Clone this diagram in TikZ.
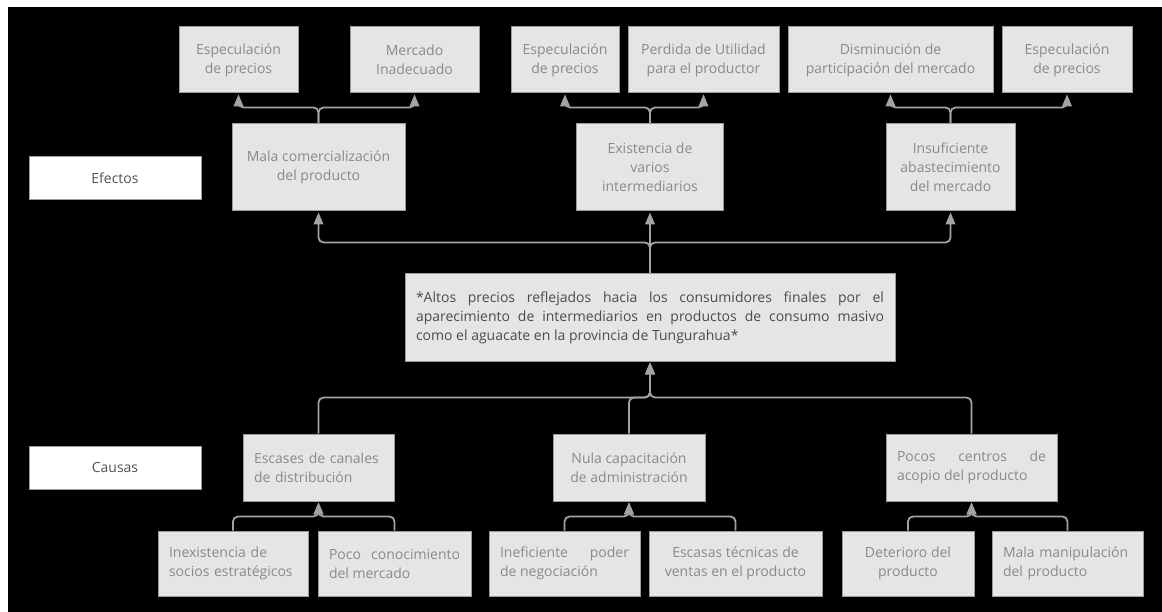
\documentclass[tikz,border=0pt]{standalone}
\usepackage{fontspec}
\setmainfont{Open Sans}
\usetikzlibrary{arrows}

\definecolor{boxfill}{HTML}{E6E4E7}
\definecolor{boxline}{HTML}{9C9A9C}
\definecolor{boxtext}{HTML}{8A8A8A}
\definecolor{linkgray}{HTML}{A3A3A3}

\begin{document}
\begin{tikzpicture}[x=1pt,y=-1pt,->,>=triangle 45,shorten >=1pt,
  box/.style={draw=boxline,fill=boxfill,text=boxtext,line width=1pt,align=center,
    inner sep=0pt,font=\fontsize{14}{19}\selectfont},
  tag node/.style={box,fill=white,text=black!68,minimum width=172pt,minimum height=43pt},
  top node/.style={box,minimum height=66pt},
  mid node/.style={box,minimum height=87pt},
  cause node/.style={box,minimum height=67pt},
  sub node/.style={box,minimum height=65pt},
  wrap/.style={inner xsep=11pt,text width=#1},
  link/.style={draw=linkgray,line width=1.8pt,rounded corners=5pt}]

  \fill[white] (0,0) rectangle (1162,612);
  \fill[black] (8,7) rectangle (1162,612);

  \node[tag node] (efectos) at (115,178) {Efectos};
  \node[tag node] (causas) at (115,467.5) {Causas};

  % efectos
  \node[top node,minimum width=119pt] (esp1) at (238.5,60) {Especulación\\de precios};
  \node[top node,minimum width=129pt] (mercado) at (414.5,60) {Mercado\\Inadecuado};
  \node[top node,minimum width=108pt] (esp2) at (565,60) {Especulación\\de precios};
  \node[top node,minimum width=151pt] (perdida) at (703.5,60) {Perdida de Utilidad\\para el productor};
  \node[top node,minimum width=205pt] (disminucion) at (890.5,60) {Disminución de\\participación del mercado};
  \node[top node,minimum width=130pt] (esp3) at (1067,60) {Especulación\\de precios};

  \node[mid node,minimum width=173pt] (mala) at (318.5,167.5) {Mala comercialización\\del producto};
  \node[mid node,minimum width=147pt] (existencia) at (650,167.5) {Existencia de\\varios\\intermediarios};
  \node[mid node,minimum width=129pt] (insuficiente) at (950.5,167.5) {Insuficiente\\abastecimiento\\del mercado};

  % problema central
  \node[box,text=black!70,minimum height=87pt,wrap=468pt,align=justify] (problema) at (650,317.5)
    {*Altos precios reflejados hacia los consumidores finales por el\linebreak
     aparecimiento de intermediarios en productos de consumo masivo\linebreak
     como el aguacate en la provincia de Tungurahua*};

  % causas
  \node[cause node,wrap=129pt,align=left] (escases) at (318.5,467.5) {Escases de canales\\de distribución};
  \node[cause node,minimum width=152pt] (nula) at (629,467.5) {Nula capacitación\\de administración};
  \node[cause node,wrap=149pt,align=justify] (pocos) at (971.5,467.5) {Pocos centros de\linebreak acopio del producto};

  \node[sub node,wrap=128pt,align=left] (inexistencia) at (233,563.5) {Inexistencia de\\socios estratégicos};
  \node[sub node,wrap=131pt,align=justify] (poco) at (394.5,563.5) {Poco conocimiento\linebreak del mercado};
  \node[sub node,wrap=129pt,align=justify] (ineficiente) at (564.5,563.5) {Ineficiente poder\linebreak de negociación};
  \node[sub node,minimum width=173pt] (escasas) at (735.5,563.5) {Escasas técnicas de\\ventas en el producto};
  \node[sub node,minimum width=132pt] (deterioro) at (908,563.5) {Deterioro del\\producto};
  \node[sub node,wrap=129pt,align=left] (manipulacion) at (1067.5,563.5) {Mala manipulación\\del producto};

  % efectos de cada efecto
  \draw[link] (mala.north) -- ++(0,-16) -| (esp1.south);
  \draw[link] (mala.north) -- ++(0,-16) -| (mercado.south);
  \draw[link] (existencia.north) -- ++(0,-16) -| (esp2.south);
  \draw[link] (existencia.north) -- ++(0,-16) -| (perdida.south);
  \draw[link] (insuficiente.north) -- ++(0,-16) -| (disminucion.south);
  \draw[link] (insuficiente.north) -- ++(0,-16) -| (esp3.south);

  \draw[link] (problema.north) -- ++(0,-31) -| (mala.south);
  \draw[link] (problema.north) -- (existencia.south);
  \draw[link] (problema.north) -- ++(0,-31) -| (insuficiente.south);

  % causas hacia el problema
  \draw[link] (escases.north) -- ++(0,-36) -| (problema.south);
  \draw[link] (nula.north) -- ++(0,-36) -| (problema.south);
  \draw[link] (pocos.north) -- ++(0,-36) -| (problema.south);

  \draw[link] (inexistencia.north) -- ++(0,-14) -| (escases.south);
  \draw[link] (poco.north) -- ++(0,-14) -| (escases.south);
  \draw[link] (ineficiente.north) -- ++(0,-14) -| (nula.south);
  \draw[link] (escasas.north) -- ++(0,-14) -| (nula.south);
  \draw[link] (deterioro.north) -- ++(0,-14) -| (pocos.south);
  \draw[link] (manipulacion.north) -- ++(0,-14) -| (pocos.south);
\end{tikzpicture}
\end{document}
